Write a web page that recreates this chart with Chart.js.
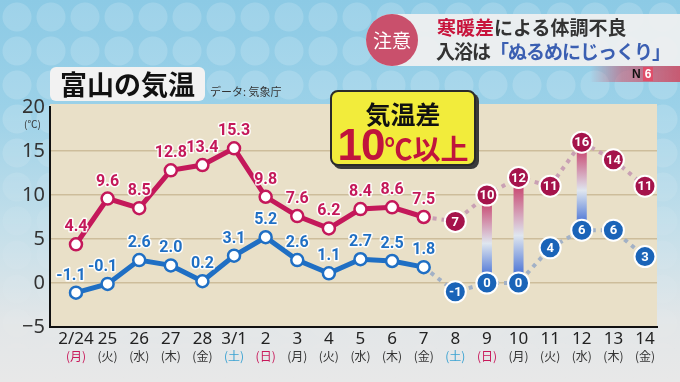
<!DOCTYPE html>
<html><head><meta charset="utf-8">
<script src="https://cdn.jsdelivr.net/npm/chart.js@4/dist/chart.umd.min.js"></script>
<style>
html,body{margin:0;padding:0;}
body{width:680px;height:382px;overflow:hidden;position:relative;font-family:"Noto Sans CJK JP","Noto Sans",sans-serif;
background:linear-gradient(180deg,#8ccae5 0%,#9bd1e8 28%,#c4dfea 60%,#e2e6e8 84%,#e8e8e8 100%);}
#pat{position:absolute;left:0;top:0;width:680px;height:382px;
background:radial-gradient(circle at 17px 17px, rgba(255,255,255,0.16) 14px, transparent 15px) 0 0/34px 34px;
-webkit-mask-image:linear-gradient(180deg,#000 0%,#000 30%,rgba(0,0,0,0.35) 60%,rgba(0,0,0,0.2) 100%);
mask-image:linear-gradient(180deg,#000 0%,#000 30%,rgba(0,0,0,0.35) 60%,rgba(0,0,0,0.2) 100%);}
canvas{position:absolute;left:0;top:0;}
.ov{position:absolute;white-space:nowrap;}
#title{left:50px;top:67px;width:155px;height:34px;background:#f2f2f2;border-radius:6px;font-size:27px;font-weight:700;line-height:34px;text-align:center;color:#111;}
#src{left:210px;top:83px;font-size:11px;color:#333;}
#unit{left:24px;top:116px;font-size:10px;color:#333;}
#banner{left:366px;top:14px;width:314px;height:52px;background:rgba(240,240,240,0.93);border-radius:26px 0 0 26px;}
#caution{left:366px;top:14px;width:52px;height:52px;border-radius:50%;background:#c9506c;color:#fff;font-size:19px;line-height:52px;text-align:center;}
#l1{left:437px;top:15px;font-size:19px;font-weight:700;color:#333;line-height:24px;}
#l2{left:436px;top:39px;font-size:19px;font-weight:700;color:#333;line-height:24px;letter-spacing:-1px;}
.red{color:#c8143c;} .blue{color:#3b5fb2;}
#tab{left:590px;top:66px;width:90px;height:16px;background:linear-gradient(90deg,rgba(200,90,115,0) 0%,rgba(200,90,115,0.6) 35%,#c75a72 100%);}
#n6{left:632px;top:66px;font-size:12px;font-weight:900;line-height:16px;font-family:"Liberation Sans",sans-serif;}
#n6 .n{color:#111;} #n6 .s{color:#fff;background:#e04e6a;padding:0 2px;margin-left:2px;}
#ybox{left:330px;top:90px;width:142px;height:72px;background:#f2ec3b;border:2px solid #2a2a2a;border-radius:8px;box-shadow:3px 3px 0 #3a3a3a;text-align:center;}
#y1{font-size:25px;font-weight:700;color:#111;line-height:28px;margin-top:7px;}
#y2{color:#c0143c;font-weight:700;line-height:36px;}
#y2 .big{font-size:44px;font-family:"Liberation Sans","Noto Sans",sans-serif;font-weight:700;letter-spacing:-1px;}
#y2 .mid{font-size:28px;}
</style></head>
<body>
<div id="pat"></div>
<canvas id="c" width="680" height="382"></canvas>
<div class="ov" id="title">富山の気温</div>
<div class="ov" id="src">データ: 気象庁</div>
<div class="ov" id="unit">(℃)</div>
<div class="ov" id="banner"></div>
<div class="ov" id="caution">注意</div>
<div class="ov" id="l1"><span class="red">寒暖差</span>による体調不良</div>
<div class="ov" id="l2">入浴は<span class="blue">「ぬるめにじっくり」</span></div>
<div class="ov" id="tab"></div>
<div class="ov" id="n6"><span class="n">N</span><span class="s">6</span></div>
<div class="ov" id="ybox"><div id="y1">気温差</div><div id="y2"><span class="big">10</span><span class="mid">℃以上</span></div></div>
<script>
// ---- data ----
const dates = ['2/24','25','26','27','28','3/1','2','3','4','5','6','7','8','9','10','11','12','13','14'];
const weekdays = ['(月)','(火)','(水)','(木)','(金)','(土)','(日)','(月)','(火)','(水)','(木)','(金)','(土)','(日)','(月)','(火)','(水)','(木)','(金)'];
const holidays = ['2/24'];
const highObs = [4.4, 9.6, 8.5, 12.8, 13.4, 15.3, 9.8, 7.6, 6.2, 8.4, 8.6, 7.5];
const lowObs  = [-1.1, -0.1, 2.6, 2.0, 0.2, 3.1, 5.2, 2.6, 1.1, 2.7, 2.5, 1.8];
const highFc  = [7, 10, 12, 11, 16, 14, 11];
const lowFc   = [-1, 0, 0, 4, 6, 6, 3];
const gapDays = ['9', '10', '12'];
const yTicks  = [-5, 0, 5, 10, 15, 20];

// ---- styles ----
const HI = '#c4185a', LO = '#1f6fc4', HI_FC = '#a5134b', LO_FC = '#1a64b8';
const fcStart = highObs.length;
const obsPts = arr => arr.map((v,i)=>({x:i,y:v}));
const fcPts = (last, arr) => [{x:fcStart-1,y:last}].concat(arr.map((v,i)=>({x:fcStart+i,y:v})));
const wdColor = i => {
  if (holidays.includes(dates[i]) || weekdays[i]==='(日)') return '#c8185a';
  if (weekdays[i]==='(土)') return '#3aa2d2';
  return '#333';
};
const XMIN = -0.822, XMAX = 18.38;
const setTicks = s => { s.ticks = dates.map((d,i)=>({value:i})); };

const bgPlugin = {
  id:'bg',
  beforeDraw(chart){
    const {ctx, chartArea:a} = chart;
    ctx.save(); ctx.fillStyle='#e9e0c8'; ctx.fillRect(a.left, a.top-3, a.right-a.left, a.bottom-a.top+3); ctx.restore();
  }
};
const gapPlugin = {
  id:'gap',
  beforeDatasetsDraw(chart){
    const {ctx, scales:{x,y}} = chart;
    ctx.save();
    gapDays.forEach(d=>{
      const i = dates.indexOf(d);
      const hi = highFc[i-fcStart], lo = lowFc[i-fcStart];
      const px = x.getPixelForValue(i), y1 = y.getPixelForValue(hi), y2 = y.getPixelForValue(lo);
      const g = ctx.createLinearGradient(0,y1,0,y2);
      g.addColorStop(0,'#c42a5a'); g.addColorStop(0.55,'#dfe6ef'); g.addColorStop(1,'#2a5bd0');
      ctx.fillStyle = g; ctx.fillRect(px-5, y1, 10, y2-y1);
    });
    ctx.restore();
  }
};
const labelPlugin = {
  id:'lbl',
  afterDatasetsDraw(chart){
    const {ctx, scales:{x,y}} = chart;
    ctx.save();
    ctx.textAlign='center'; ctx.textBaseline='middle';
    ctx.font = 'bold 16px Roboto, "Noto Sans", sans-serif';
    ctx.lineJoin='round';
    const obs = (arr, col) => arr.forEach((v,i)=>{
      const px = x.getPixelForValue(i) + (v<0?-5:0), py = y.getPixelForValue(v) - 17;
      const t = v.toFixed(1);
      ctx.lineWidth = 3; ctx.strokeStyle = 'rgba(255,255,255,0.9)'; ctx.strokeText(t,px,py);
      ctx.fillStyle = col; ctx.fillText(t,px,py);
    });
    obs(highObs, HI); obs(lowObs, LO);
    ctx.font = 'bold 13px Roboto, "Noto Sans", sans-serif';
    ctx.fillStyle = '#fff';
    const fc = arr => arr.forEach((v,i)=>{
      ctx.fillText(String(v), x.getPixelForValue(fcStart+i), y.getPixelForValue(v)+1);
    });
    fc(highFc); fc(lowFc);
    ctx.restore();
  }
};

new Chart(document.getElementById('c'), {
  type:'line',
  data:{datasets:[
    {data:obsPts(highObs), borderColor:HI, borderWidth:5, pointRadius:6, pointBackgroundColor:'#fff', pointBorderColor:HI, pointBorderWidth:2.5},
    {data:obsPts(lowObs), borderColor:LO, borderWidth:5, pointRadius:6, pointBackgroundColor:'#fff', pointBorderColor:LO, pointBorderWidth:2.5},
    {data:fcPts(highObs[fcStart-1], highFc), borderColor:'#c9a0b4', borderWidth:4, borderDash:[4,5],
     pointRadius:c=>c.dataIndex===0?0:10.5, pointBackgroundColor:HI_FC, pointBorderColor:'#fff', pointBorderWidth:2},
    {data:fcPts(lowObs[fcStart-1], lowFc), borderColor:'#a2b1c6', borderWidth:4, borderDash:[4,5],
     pointRadius:c=>c.dataIndex===0?0:10.5, pointBackgroundColor:LO_FC, pointBorderColor:'#fff', pointBorderWidth:2}
  ]},
  options:{
    responsive:false, animation:false,
    layout:{padding:{left:0,right:23,top:107,bottom:13}},
    plugins:{legend:{display:false}, tooltip:{enabled:false}},
    elements:{line:{tension:0}},
    scales:{
      x:{type:'linear', position:'bottom', min:XMIN, max:XMAX, afterBuildTicks:setTicks, afterFit:s=>{s.height=22;},
        grid:{display:false, drawTicks:false}, border:{color:'#111', width:2},
        ticks:{autoSkip:false, maxRotation:0, padding:2, color:'#222', font:{size:17, family:'"Noto Sans", sans-serif'}, callback:v=>dates[v]}},
      x2:{type:'linear', position:'bottom', min:XMIN, max:XMAX, afterBuildTicks:setTicks, afterFit:s=>{s.height=20;},
        grid:{display:false, drawTicks:false}, border:{display:false},
        ticks:{autoSkip:false, maxRotation:0, padding:0, color:c=>wdColor(c.index), font:{size:12, family:'"Noto Sans CJK JP", sans-serif'}, callback:v=>weekdays[v]}},
      y:{min:-5, max:20, afterFit:s=>{s.width=50;}, afterBuildTicks:s=>{s.ticks=yTicks.map(v=>({value:v}));},
        grid:{color:c=>(c.tick && (c.tick.value===20||c.tick.value===-5))?'rgba(0,0,0,0)':'#cdbd9b', lineWidth:1.5, drawTicks:false},
        border:{color:'#111', width:2},
        ticks:{padding:5, color:'#333', font:{size:20, family:'"Noto Sans", sans-serif'}, callback:v=>v<0?'−'+Math.abs(v):String(v)}}
    }
  },
  plugins:[bgPlugin, gapPlugin, labelPlugin]
});
</script>
</body></html>
